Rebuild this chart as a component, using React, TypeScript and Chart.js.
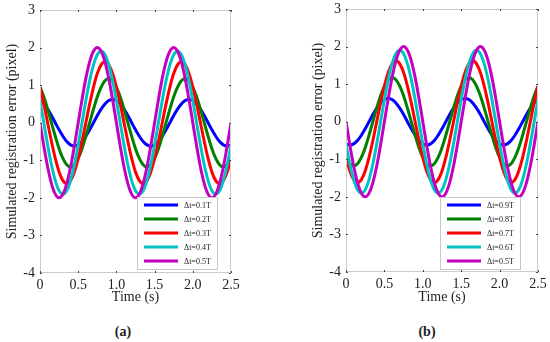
import React, { useEffect, useRef } from 'react';
import { Chart, registerables } from 'chart.js';

Chart.register(...registerables);

// ---------- data ----------
const times = [
  0, 0.05, 0.1, 0.15, 0.2, 0.25, 0.3, 0.35, 0.4, 0.45,
  0.5, 0.55, 0.6, 0.65, 0.7, 0.75, 0.8, 0.85, 0.9, 0.95,
  1, 1.05, 1.1, 1.15, 1.2, 1.25, 1.3, 1.35, 1.4, 1.45,
  1.5, 1.55, 1.6, 1.65, 1.7, 1.75, 1.8, 1.85, 1.9, 1.95,
  2, 2.05, 2.1, 2.15, 2.2, 2.25, 2.3, 2.35, 2.4, 2.45, 2.5,
];

const dt01 = [
  0.59, 0.50, 0.36, 0.19, 0, -0.19, -0.36, -0.50, -0.59, -0.62, -0.59, -0.50, -0.36, -0.19, 0, 0.19, 0.36, 0.50, 0.59, 0.62,
  0.59, 0.50, 0.36, 0.19, 0, -0.19, -0.36, -0.50, -0.59, -0.62, -0.59, -0.50, -0.36, -0.19, 0, 0.19, 0.36, 0.50, 0.59, 0.62,
  0.59, 0.50, 0.36, 0.19, 0, -0.19, -0.36, -0.50, -0.59, -0.62, -0.59,
];
const dt02 = [
  0.95, 0.69, 0.36, 0, -0.36, -0.69, -0.95, -1.12, -1.18, -1.12, -0.95, -0.69, -0.36, 0, 0.36, 0.69, 0.95, 1.12, 1.18, 1.12,
  0.95, 0.69, 0.36, 0, -0.36, -0.69, -0.95, -1.12, -1.18, -1.12, -0.95, -0.69, -0.36, 0, 0.36, 0.69, 0.95, 1.12, 1.18, 1.12,
  0.95, 0.69, 0.36, 0, -0.36, -0.69, -0.95, -1.12, -1.18, -1.12, -0.95,
];
const dt03 = [
  0.95, 0.50, 0, -0.50, -0.95, -1.31, -1.54, -1.62, -1.54, -1.31, -0.95, -0.50, 0, 0.50, 0.95, 1.31, 1.54, 1.62, 1.54, 1.31,
  0.95, 0.50, 0, -0.50, -0.95, -1.31, -1.54, -1.62, -1.54, -1.31, -0.95, -0.50, 0, 0.50, 0.95, 1.31, 1.54, 1.62, 1.54, 1.31,
  0.95, 0.50, 0, -0.50, -0.95, -1.31, -1.54, -1.62, -1.54, -1.31, -0.95,
];
const dt04 = [
  0.59, 0, -0.59, -1.12, -1.54, -1.81, -1.90, -1.81, -1.54, -1.12, -0.59, 0, 0.59, 1.12, 1.54, 1.81, 1.90, 1.81, 1.54, 1.12,
  0.59, 0, -0.59, -1.12, -1.54, -1.81, -1.90, -1.81, -1.54, -1.12, -0.59, 0, 0.59, 1.12, 1.54, 1.81, 1.90, 1.81, 1.54, 1.12,
  0.59, 0, -0.59, -1.12, -1.54, -1.81, -1.90, -1.81, -1.54, -1.12, -0.59,
];
const dt05 = [
  0, -0.62, -1.18, -1.62, -1.90, -2.00, -1.90, -1.62, -1.18, -0.62, 0, 0.62, 1.18, 1.62, 1.90, 2.00, 1.90, 1.62, 1.18, 0.62,
  0, -0.62, -1.18, -1.62, -1.90, -2.00, -1.90, -1.62, -1.18, -0.62, 0, 0.62, 1.18, 1.62, 1.90, 2.00, 1.90, 1.62, 1.18, 0.62,
  0, -0.62, -1.18, -1.62, -1.90, -2.00, -1.90, -1.62, -1.18, -0.62, 0,
];
const dt06 = [
  -0.59, -1.12, -1.54, -1.81, -1.90, -1.81, -1.54, -1.12, -0.59, 0, 0.59, 1.12, 1.54, 1.81, 1.90, 1.81, 1.54, 1.12, 0.59, 0,
  -0.59, -1.12, -1.54, -1.81, -1.90, -1.81, -1.54, -1.12, -0.59, 0, 0.59, 1.12, 1.54, 1.81, 1.90, 1.81, 1.54, 1.12, 0.59, 0,
  -0.59, -1.12, -1.54, -1.81, -1.90, -1.81, -1.54, -1.12, -0.59, 0, 0.59,
];
const dt07 = [
  -0.95, -1.31, -1.54, -1.62, -1.54, -1.31, -0.95, -0.50, 0, 0.50, 0.95, 1.31, 1.54, 1.62, 1.54, 1.31, 0.95, 0.50, 0, -0.50,
  -0.95, -1.31, -1.54, -1.62, -1.54, -1.31, -0.95, -0.50, 0, 0.50, 0.95, 1.31, 1.54, 1.62, 1.54, 1.31, 0.95, 0.50, 0, -0.50,
  -0.95, -1.31, -1.54, -1.62, -1.54, -1.31, -0.95, -0.50, 0, 0.50, 0.95,
];
const dt08 = [
  -0.95, -1.12, -1.18, -1.12, -0.95, -0.69, -0.36, 0, 0.36, 0.69, 0.95, 1.12, 1.18, 1.12, 0.95, 0.69, 0.36, 0, -0.36, -0.69,
  -0.95, -1.12, -1.18, -1.12, -0.95, -0.69, -0.36, 0, 0.36, 0.69, 0.95, 1.12, 1.18, 1.12, 0.95, 0.69, 0.36, 0, -0.36, -0.69,
  -0.95, -1.12, -1.18, -1.12, -0.95, -0.69, -0.36, 0, 0.36, 0.69, 0.95,
];
const dt09 = [
  -0.59, -0.62, -0.59, -0.50, -0.36, -0.19, 0, 0.19, 0.36, 0.50, 0.59, 0.62, 0.59, 0.50, 0.36, 0.19, 0, -0.19, -0.36, -0.50,
  -0.59, -0.62, -0.59, -0.50, -0.36, -0.19, 0, 0.19, 0.36, 0.50, 0.59, 0.62, 0.59, 0.50, 0.36, 0.19, 0, -0.19, -0.36, -0.50,
  -0.59, -0.62, -0.59, -0.50, -0.36, -0.19, 0, 0.19, 0.36, 0.50, 0.59,
];

const labelsA = ['Δt=0.1T', 'Δt=0.2T', 'Δt=0.3T', 'Δt=0.4T', 'Δt=0.5T'];
const labelsB = ['Δt=0.9T', 'Δt=0.8T', 'Δt=0.7T', 'Δt=0.6T', 'Δt=0.5T'];
const seriesA = [dt01, dt02, dt03, dt04, dt05];
const seriesB = [dt09, dt08, dt07, dt06, dt05];
const colors = ['#0000ff', '#008000', '#ff0000', '#00c4c4', '#c400c4'];

const xTitle = 'Time (s)';
const yTitle = 'Simulated registration error (pixel)';

const SERIF = "'Liberation Serif', 'Times New Roman', serif";

// ---------- plugin: box, inner ticks, legend ----------
const framePlugin = {
  id: 'frameLegend',
  afterDatasetsDraw(chart: any, _args: any, opts: any) {
    const { ctx, chartArea, scales } = chart;
    const { left, right, top, bottom } = chartArea;
    ctx.save();
    ctx.strokeStyle = '#cccccc';
    ctx.lineWidth = 1;
    ctx.strokeRect(left + 0.5, top + 0.5, right - left - 1, bottom - top - 1);

    ctx.strokeStyle = '#444';
    const seg = (x1: number, y1: number, x2: number, y2: number) => {
      ctx.beginPath();
      ctx.moveTo(x1, y1);
      ctx.lineTo(x2, y2);
      ctx.stroke();
    };
    scales.x.ticks.forEach((t: any) => {
      const x = Math.round(scales.x.getPixelForValue(t.value)) + 0.5;
      seg(x, bottom, x, bottom - 2);
      seg(x, top, x, top + 2);
    });
    scales.y.ticks.forEach((t: any) => {
      const y = Math.round(scales.y.getPixelForValue(t.value)) + 0.5;
      seg(left, y, left + 2, y);
      seg(right, y, right - 2, y);
    });

    // legend
    const bw = 80;
    const bh = 72;
    const bx = Math.round(right - opts.rightGap - bw);
    const by = Math.round(bottom - opts.bottomGap - bh);
    ctx.fillStyle = '#ffffff';
    ctx.fillRect(bx, by, bw, bh);
    ctx.strokeStyle = '#c8c8c8';
    ctx.strokeRect(bx + 0.5, by + 0.5, bw, bh);
    ctx.font = `8px ${SERIF}`;
    ctx.textBaseline = 'middle';
    ctx.textAlign = 'left';
    chart.data.datasets.forEach((ds: any, i: number) => {
      const y = by + 8 + i * 14;
      ctx.strokeStyle = ds.borderColor;
      ctx.lineWidth = 3;
      seg(bx + 7, y, bx + 41, y);
      ctx.fillStyle = '#222';
      ctx.fillText(ds.label, bx + 47, y + 0.5);
    });
    ctx.restore();
  },
};

function makeConfig(labels: string[], series: number[][], padTop: number, padRight: number, xAxisH: number, legendGap: [number, number]) {
  return {
    type: 'line' as const,
    data: {
      datasets: series.map((vals, i) => ({
        label: labels[i],
        data: times.map((t, j) => ({ x: t, y: vals[j] })),
        borderColor: colors[i],
        backgroundColor: colors[i],
        borderWidth: 3,
        pointRadius: 0,
        cubicInterpolationMode: 'monotone' as const,
        fill: false,
        order: series.length - i,
      })),
    },
    options: {
      animation: false as const,
      responsive: false,
      maintainAspectRatio: false,
      layout: { padding: { top: padTop, right: padRight, left: 0, bottom: 0 } },
      plugins: {
        legend: { display: false },
        tooltip: { enabled: false },
        frameLegend: { rightGap: legendGap[0], bottomGap: legendGap[1] },
      },
      scales: {
        x: {
          type: 'linear' as const,
          min: 0,
          max: 2.5,
          grid: { display: false, drawTicks: false },
          border: { display: false },
          ticks: { stepSize: 0.5, padding: 4, color: '#222', font: { family: SERIF, size: 14 }, maxRotation: 0 },
          title: { display: true, text: xTitle, color: '#222', font: { family: SERIF, size: 14 }, padding: { top: 0, bottom: 4 } },
          afterFit: (s: any) => {
            s.height = xAxisH;
            s.paddingLeft = 0;
            s.paddingRight = 0;
          },
        },
        y: {
          min: -4,
          max: 3,
          grid: { display: false, drawTicks: false },
          border: { display: false },
          ticks: { stepSize: 1, padding: 5, color: '#222', font: { family: SERIF, size: 14 } },
          title: { display: true, text: yTitle, color: '#222', font: { family: SERIF, size: 14 }, padding: { top: 4, bottom: 0 } },
          afterFit: (s: any) => {
            s.width = 40;
            s.paddingTop = 0;
            s.paddingBottom = 0;
          },
        },
      },
    },
    plugins: [framePlugin],
  };
}

function Panel(props: { left: number; width: number; height: number; cfg: any }) {
  const ref = useRef<HTMLCanvasElement>(null);
  useEffect(() => {
    const chart = new Chart(ref.current as HTMLCanvasElement, props.cfg);
    return () => chart.destroy();
  }, []);
  return (
    <canvas
      ref={ref}
      width={props.width}
      height={props.height}
      style={{ position: 'absolute', left: props.left, top: 0, width: props.width, height: props.height }}
    />
  );
}

export default function App() {
  const cfgA = makeConfig(labelsA, seriesA, 10, 19, 37, [14, 4]);
  const cfgB = makeConfig(labelsB, seriesB, 9, 12, 38, [18, 3]);
  const cap: React.CSSProperties = {
    position: 'absolute',
    top: 323,
    width: 40,
    textAlign: 'center',
    fontFamily: SERIF,
    fontWeight: 'bold',
    fontSize: 14,
    color: '#222',
    lineHeight: '18px',
  };
  return (
    <div style={{ position: 'absolute', left: 0, top: 0, width: 550, height: 342, background: '#fff', overflow: 'hidden' }}>
      <Panel left={0} width={250} height={310} cfg={cfgA} />
      <Panel left={306} width={244} height={310} cfg={cfgB} />
      <div style={{ ...cap, left: 103 }}>(a)</div>
      <div style={{ ...cap, left: 407 }}>(b)</div>
    </div>
  );
}
